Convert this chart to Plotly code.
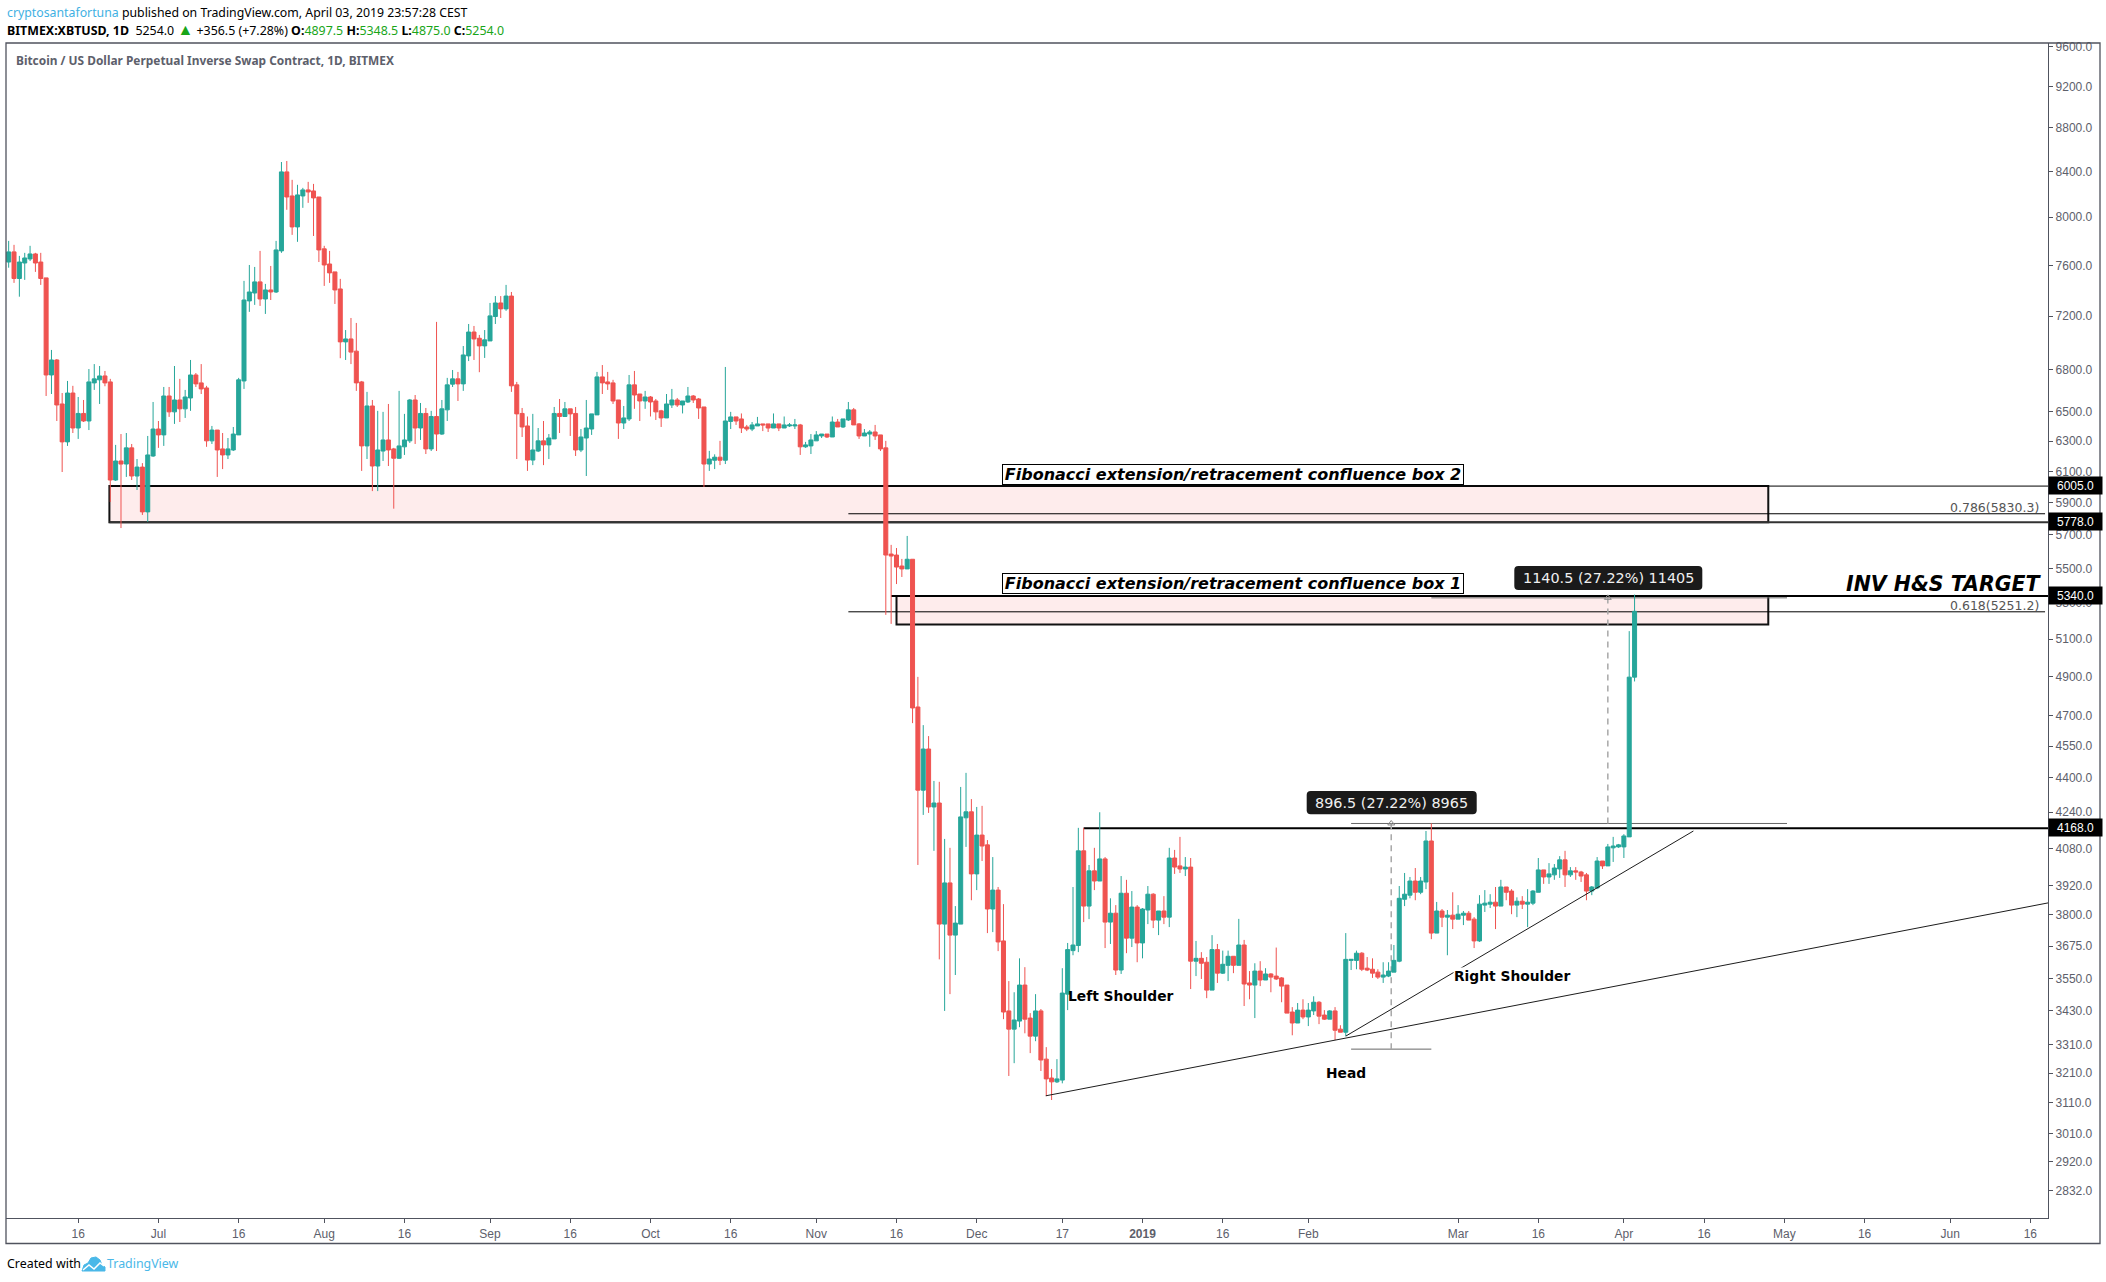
import math
import pandas as pd
import plotly.graph_objects as go

W, H = 2106, 1282
PL, PR, PT, PB = 6, 2048, 43, 1218

START_DATE = "2018-06-03"
OPEN = [7627,7710,7494,7619,7652,7693,7627,7499,6761,6870,
6555,6295,6632,6389,6489,6437,6704,6726,6754,6711,
6044,6168,6148,6255,6070,6128,5842,6201,6382,6342,
6611,6500,6583,6521,6597,6761,6704,6668,6302,6375,
6248,6208,6241,6342,6718,7317,7379,7467,7332,7403,
7387,7718,8397,8184,7918,8184,8237,8228,8175,7735,
7611,7547,7411,7004,7026,6935,6711,6268,6541,6135,
6234,6308,6248,6186,6262,6302,6583,6389,6489,6248,
6468,6348,6514,6695,6733,6697,6900,7078,7031,6974,
7011,7196,7301,7255,7355,6690,6489,6403,6174,6234,
6302,6275,6315,6489,6468,6521,6489,6241,6321,6382,
6479,6747,6711,6704,6583,6423,6451,6690,6625,6576,
6604,6576,6507,6458,6548,6583,6548,6569,6611,6590,
6534,6148,6173,6193,6173,6434,6465,6451,6396,6382,
6403,6417,6417,6389,6417,6389,6403,6403,6410,6262,
6268,6302,6335,6348,6328,6430,6396,6444,6514,6417,
6335,6348,6362,6342,6255,5585,5579,5514,5497,5554,
4744,4341,4536,4264,4282,3763,3932,3719,3763,4215,
4242,3970,4138,4095,3824,3902,3696,3430,3364,3393,
3526,3404,3339,3430,3258,3193,3180,3186,3492,3658,
3678,4069,3836,3983,3940,4034,3771,3807,3583,3889,
3707,3832,3688,3820,3885,3779,3816,3791,4038,4004,
3991,3999,3617,3628,3613,3507,3662,3571,3601,3636,
3601,3680,3534,3526,3579,3545,3568,3560,3553,3526,
3426,3386,3433,3408,3430,3462,3415,3400,3430,3364,
3353,3620,3620,3648,3590,3586,3575,3556,3560,3575,
3617,3864,3881,3940,3893,3936,4112,3727,3816,3791,
3799,3783,3799,3807,3783,3696,3840,3844,3852,3836,
3915,3898,3840,3856,3844,3848,3893,3987,3957,3966,
3991,4030,3966,3983,3978,3966,3898,3911,4025,4004,
4082,4086,4086,4130,4897.5]
HIGH = [7801,7768,7677,7702,7760,7702,7702,7499,6944,6877,
6632,6718,6683,6604,6583,6804,6840,6826,6790,6733,
6275,6348,6355,6281,6181,6154,6335,6569,6437,6675,
6675,6826,6733,6654,6870,6775,6840,6683,6403,6375,
6355,6321,6396,6740,7475,7603,7587,7718,7451,7595,
7801,8486,8495,8326,8282,8255,8308,8290,8175,7760,
7718,7547,7491,7093,7185,7147,6718,6640,6583,6507,
6500,6555,6255,6647,6486,6590,6618,6562,6527,6507,
7155,6583,6740,6797,6783,6973,7139,7124,7056,7093,
7301,7355,7355,7443,7387,6711,6527,6468,6486,6389,
6437,6348,6534,6590,6569,6521,6534,6382,6583,6486,
6783,6833,6783,6726,6583,6541,6761,6790,6625,6647,
6611,6590,6514,6625,6661,6597,6576,6675,6618,6597,
6534,6235,6212,6302,6819,6500,6465,6489,6410,6430,
6465,6417,6417,6489,6417,6468,6423,6451,6417,6295,
6348,6368,6348,6348,6468,6451,6451,6569,6527,6423,
6382,6375,6410,6342,6302,5640,5621,5556,5694,5554,
4899,4653,4599,4384,4380,4121,4082,3836,4356,4422,
4300,4264,4269,4116,4042,3915,3844,3541,3499,3628,
3594,3422,3492,3437,3300,3224,3258,3590,3688,3915,
4170,4170,4008,4082,4240,4042,3868,3840,3961,3945,
3898,3840,3828,3919,3889,3816,3877,4082,4073,4130,
4042,4038,3696,3652,3633,3719,3684,3658,3658,3636,
3784,3700,3579,3609,3617,3590,3571,3670,3556,3526,
3444,3459,3473,3459,3484,3466,3433,3433,3444,3378,
3727,3624,3658,3652,3633,3628,3586,3613,3613,3680,
3919,3974,3957,3995,3957,4156,4190,3853,3824,3820,
3893,3840,3816,3816,3791,3881,3902,3885,3915,3945,
3915,3906,3872,3877,3906,3902,4038,3987,4016,4012,
4046,4069,3999,3999,3983,3974,3919,4042,4025,4099,
4130,4099,4142,5144,5348.5]
LOW = [7581,7459,7350,7483,7635,7547,7443,6611,6625,6437,
6096,6268,6355,6315,6430,6375,6654,6555,6680,5904,
6038,5742,6064,6044,5980,5823,5780,6195,6255,6268,
6465,6417,6430,6458,6507,6675,6625,6262,6281,6064,
6115,6181,6234,6342,6661,7232,7286,7278,7216,7324,
7379,7702,8064,7851,7793,8081,8124,7842,7627,7435,
7459,7293,6883,6870,6840,6647,6103,6181,5973,5973,
6168,6135,5862,6181,6208,6288,6281,6308,6214,6234,
6234,6342,6437,6675,6576,6647,6862,6870,6781,6885,
7011,7139,7185,7240,6640,6181,6328,6103,6141,6227,
6141,6181,6315,6355,6465,6335,6201,6227,6070,6342,
6479,6625,6654,6555,6315,6382,6437,6521,6437,6521,
6468,6444,6396,6458,6527,6534,6489,6562,6562,6451,
5999,6103,6115,6141,6148,6382,6410,6355,6368,6368,
6403,6368,6362,6389,6368,6389,6396,6382,6208,6255,
6214,6302,6321,6321,6328,6396,6389,6437,6410,6315,
6335,6262,6308,6234,5234,5184,5409,5450,5497,4663,
4008,4228,4237,4069,3624,3430,3492,3564,3763,4086,
3860,3902,4025,3727,3731,3656,3400,3200,3244,3371,
3349,3279,3321,3217,3132,3119,3176,3175,3433,3640,
3652,3771,3783,3902,3940,3668,3684,3564,3568,3648,
3672,3613,3628,3763,3747,3719,3763,3751,3970,3974,
3961,3511,3560,3549,3477,3507,3534,3568,3541,3571,
3601,3448,3473,3404,3522,3545,3499,3545,3462,3422,
3342,3386,3400,3375,3415,3382,3397,3400,3325,3353,
3339,3583,3586,3579,3579,3553,3549,3534,3556,3575,
3613,3836,3868,3860,3885,3906,3703,3727,3751,3640,
3743,3783,3759,3779,3668,3692,3812,3828,3743,3836,
3860,3803,3791,3824,3751,3840,3893,3928,3928,3945,
3953,3915,3957,3945,3936,3860,3881,3906,3991,4004,
4021,4082,4038,4130,4875]
CLOSE = [7710,7494,7627,7660,7693,7619,7494,6761,6870,6548,
6295,6632,6389,6489,6437,6711,6733,6754,6704,6044,
6168,6148,6255,6070,6128,5842,6208,6382,6342,6611,
6500,6583,6521,6604,6761,6697,6661,6302,6375,6241,
6208,6248,6348,6726,7324,7387,7467,7332,7403,7387,
7726,8397,8175,7918,8193,8237,8219,8167,7726,7603,
7539,7403,7004,7026,6928,6704,6268,6541,6135,6241,
6308,6241,6186,6268,6308,6583,6389,6489,6248,6468,
6348,6521,6690,6733,6697,6907,7078,7026,6974,7019,
7201,7301,7255,7355,6683,6486,6396,6174,6241,6302,
6275,6321,6489,6468,6521,6486,6241,6328,6389,6486,
6747,6704,6697,6576,6423,6458,6690,6618,6576,6604,
6569,6500,6458,6555,6583,6548,6576,6611,6583,6527,
6148,6181,6193,6173,6437,6465,6437,6389,6382,6410,
6417,6410,6389,6417,6389,6410,6410,6410,6262,6275,
6308,6342,6348,6328,6430,6396,6451,6514,6410,6335,
6355,6362,6335,6248,5579,5573,5508,5497,5554,4739,
4341,4536,4264,4282,3763,3932,3719,3767,4219,4242,
3970,4138,4090,3824,3902,3692,3426,3364,3397,3526,
3400,3339,3430,3255,3190,3180,3190,3496,3662,3680,
4069,3836,3983,3940,4034,3771,3807,3583,3889,3707,
3832,3688,3824,3885,3779,3816,3791,4038,3999,3991,
3999,3617,3628,3609,3507,3662,3571,3605,3636,3601,
3680,3530,3526,3579,3545,3568,3556,3549,3522,3422,
3386,3433,3408,3433,3462,3411,3400,3430,3360,3353,
3624,3624,3648,3586,3583,3571,3556,3564,3579,3620,
3868,3885,3940,3893,3940,4112,3727,3816,3791,3799,
3783,3803,3807,3779,3696,3844,3848,3852,3836,3915,
3893,3840,3856,3844,3852,3898,3987,3957,3970,3995,
4030,3966,3983,3978,3961,3898,3915,4025,4004,4086,
4090,4095,4134,4897.5,5254]

Y_TICKS = [9600,9200,8800,8400,8000,7600,7200,6800,6500,6300,6100,5900,5700,5500,5300,5100,
           4900,4700,4550,4400,4240,4080,3920,3800,3675,3550,3430,3310,3210,3110,3010,2920,2832]
X_TICKS = ["2018-06-16","2018-07-01","2018-07-16","2018-08-01","2018-08-16","2018-09-01","2018-09-16",
           "2018-10-01","2018-10-16","2018-11-01","2018-11-16","2018-12-01","2018-12-17","2019-01-01",
           "2019-01-16","2019-02-01","2019-03-01","2019-03-16","2019-04-01","2019-04-16","2019-05-01",
           "2019-05-16","2019-06-01","2019-06-16"]
X_LABELS = ["16","Jul","16","Aug","16","Sep","16","Oct","16","Nov","16","Dec","17","<b>2019</b>",
            "16","Feb","Mar","16","Apr","16","May","16","Jun","16"]

X_RANGE = ["2018-06-02 12:00", "2019-06-19 07:12"]
Y_MIN, Y_MAX = 2750, 9635

# Drawings, in chart values
BOX2 = ("2018-06-21 20:00", "2019-04-28", 6005, 5778)
BOX1 = ("2018-11-16 00:00", "2019-04-28", 5340, 5180)
PRICE_TAGS = [6005, 5778, 5340, 4168]
FIB_LEVELS = [("0.786(5830.3)", 5830.3), ("0.618(5251.2)", 5251.2)]
FIB_START = "2018-11-07"
NECK_START = "2018-12-21"
TARGET_START = "2018-11-15"
M_BOTTOM, M_MID, M_TOP = 3293, 4189.5, 5330
M1_X, M2_X = "2019-02-16 12:00", "2019-03-29"
ML_A, ML_B, ML_C = "2019-02-09", "2019-02-24", "2019-05-01 12:00"
TREND1_X = ["2018-12-13 22:00", "2019-06-19 07:12"]
TREND1_Y = [3133, 3849]
TREND2_X = ["2019-02-08", "2019-04-14"]
TREND2_Y = [3339, 4156]

GREEN, RED = "#26A69A", "#EF5350"
AXIS = "#50535E"
SANS = "Noto Sans"
DEJA = "DejaVu Sans"
ARIAL = "Liberation Sans"


def px(x):
    return (x - PL) / (PR - PL)


def py(y):
    return (PB - y) / (PB - PT)


dates = pd.date_range(START_DATE, periods=len(OPEN), freq="D")

fig = go.Figure()
fig.add_trace(go.Candlestick(
    x=dates, open=OPEN, high=HIGH, low=LOW, close=CLOSE,
    increasing=dict(line=dict(color=GREEN, width=1), fillcolor=GREEN),
    decreasing=dict(line=dict(color=RED, width=1), fillcolor=RED),
    whiskerwidth=0, showlegend=False, hoverinfo="skip"))
for xs, ys in [(TREND1_X, TREND1_Y), (TREND2_X, TREND2_Y)]:
    fig.add_trace(go.Scatter(x=xs, y=ys, mode="lines", line=dict(color="#1c1c1c", width=1),
                             showlegend=False, hoverinfo="skip"))
fig.add_trace(go.Scatter(x=[M1_X, M2_X], y=[M_MID, M_TOP], mode="markers",
                         marker=dict(symbol="triangle-up-open", size=6, color="#8a8a8a", line=dict(width=1, color="#8a8a8a")),
                         showlegend=False, hoverinfo="skip"))

shapes = []


def hline(x0, x1, y, color="black", width=1, dash=None):
    line = dict(color=color, width=width)
    if dash:
        line["dash"] = dash
    shapes.append(dict(type="line", xref="x", yref="y", x0=x0, x1=x1, y0=y, y1=y, line=line, layer="below"))


for (x0, x1, y0, y1) in (BOX2, BOX1):
    shapes.append(dict(type="rect", xref="x", yref="y", x0=x0, x1=x1, y0=y0, y1=y1,
                       fillcolor="#FEECEC", line=dict(color="#111111", width=2), layer="below"))

hline(BOX2[0], X_RANGE[1], 6005, width=1)
hline(BOX2[0], X_RANGE[1], 5778, color="#333333", width=2)
hline(TARGET_START, X_RANGE[1], 5340, width=2)
hline(NECK_START, X_RANGE[1], 4168, width=2)
for _, lvl in FIB_LEVELS:
    hline(FIB_START, "2019-06-18 18:00", lvl, width=1)
hline(ML_A, ML_C, M_MID, color="#666666", width=1)
hline(ML_A, ML_B, M_BOTTOM, color="#666666", width=1)
hline(ML_B, ML_C, M_TOP, color="#666666", width=1)
for xm, y0, y1 in [(M1_X, M_BOTTOM, M_MID), (M2_X, M_MID, M_TOP)]:
    shapes.append(dict(type="line", xref="x", yref="y", x0=xm, x1=xm, y0=y0, y1=y1,
                       line=dict(color="#A8A8A8", width=1.5, dash="6px,5px"), layer="below"))


def paper_rect(x0, y0, x1, y1, color=AXIS, fill=None, width=1):
    s = dict(type="rect", xref="paper", yref="paper", x0=px(x0), x1=px(x1), y0=py(y0), y1=py(y1),
             line=dict(color=color, width=width))
    if fill:
        s["fillcolor"] = fill
    shapes.append(s)


# outer frame of the picture
paper_rect(6, 43, 2100, 1243.5, width=1.3)


def rounded(x0, y0, x1, y1, r, fill):
    X = lambda v: f"{px(v):.5f}"
    Y = lambda v: f"{py(v):.5f}"
    p = (f"M{X(x0+r)},{Y(y0)} L{X(x1-r)},{Y(y0)} Q{X(x1)},{Y(y0)} {X(x1)},{Y(y0+r)} "
         f"L{X(x1)},{Y(y1-r)} Q{X(x1)},{Y(y1)} {X(x1-r)},{Y(y1)} L{X(x0+r)},{Y(y1)} "
         f"Q{X(x0)},{Y(y1)} {X(x0)},{Y(y1-r)} L{X(x0)},{Y(y0+r)} Q{X(x0)},{Y(y0)} {X(x0+r)},{Y(y0)} Z")
    shapes.append(dict(type="path", xref="paper", yref="paper", path=p, fillcolor=fill, line=dict(width=0)))


rounded(1306.7, 791, 1476.7, 814.3, 4, "#1A1A1A")
rounded(1514.3, 566, 1702.3, 590, 4, "#1A1A1A")


def poly(pts, fill=None, stroke=None, w=1):
    d = "M" + " L".join(f"{px(x):.5f},{py(y):.5f}" for x, y in pts)
    if fill:
        d += " Z"
    s = dict(type="path", xref="paper", yref="paper", path=d, line=dict(width=w, color=stroke or fill))
    if fill:
        s["fillcolor"] = fill
    shapes.append(s)


# TradingView cloud mark in the footer
poly([(82, 1271), (84, 1265), (88, 1263), (91, 1258), (96, 1257), (100, 1260), (102, 1265), (105, 1267), (105, 1271)], fill="#4AB8E8")
poly([(83, 1270), (89, 1265), (94, 1269), (100, 1263), (104, 1266)], stroke="white", w=1.5)

anns = []


def text(x, y, s, size, font=SANS, color="black", anchor="left", **kw):
    a = dict(xref="paper", yref="paper", x=px(x), y=py(y), text=s, showarrow=False,
             xanchor=anchor, yanchor="middle", font=dict(family=font, size=size, color=color), borderpad=0)
    a.update(kw)
    anns.append(a)


text(6, 12.5, '<span style="color:#3FB1E3">cryptosantafortuna</span> published on TradingView.com, April 03, 2019 23:57:28 CEST', 12.3)
g = "#19A519"
text(6, 29.5, f'<b>BITMEX:XBTUSD, 1D</b>  5254.0 <span style="color:{g};font-size:16px">▲</span> +356.5 (+7.28%) '
     f'<b>O:</b><span style="color:{g}">4897.5</span> <b>H:</b><span style="color:{g}">5348.5</span> '
     f'<b>L:</b><span style="color:{g}">4875.0</span> <b>C:</b><span style="color:{g}">5254.0</span>', 12.4)
text(14.5, 60.5, "<b>Bitcoin / US Dollar Perpetual Inverse Swap Contract, 1D, BITMEX</b>", 11.9, color="#5D606B")
text(6, 1263, "Created with", 12.4)
text(106, 1263, "TradingView", 12.4, color="#4AB8E8")

for label, cy in [("Fibonacci extension/retracement confluence box 2", 475),
                  ("Fibonacci extension/retracement confluence box 1", 583)]:
    text(1233, cy, f"<b><i>{label}</i></b>", 16, font=DEJA, anchor="center", bgcolor="white",
         bordercolor="black", borderwidth=1, width=460, height=19, align="center")

text(2043, 584, "<b><i>INV H&amp;S TARGET</i></b>", 20.5, font=DEJA, anchor="right")
text(1121, 996, "<b>Left Shoulder</b>", 13.8, font=DEJA, anchor="center")
text(1512, 975.7, "<b>Right Shoulder</b>", 13.8, font=DEJA, anchor="center", bgcolor="white")
text(1346, 1073, "<b>Head</b>", 13.8, font=DEJA, anchor="center")
text(1391.7, 802.6, "896.5 (27.22%) 8965", 14.4, font=DEJA, color="#F0F0F0", anchor="center")
text(1608.3, 578, "1140.5 (27.22%) 11405", 14.4, font=DEJA, color="#F0F0F0", anchor="center")

for label, lvl in FIB_LEVELS:
    anns.append(dict(xref="paper", yref="y", x=px(2041), y=math.log10(lvl), text=label, showarrow=False,
                     xanchor="right", yanchor="bottom", yshift=-3,
                     font=dict(family=DEJA, size=12.5, color="#555555")))

for tag in PRICE_TAGS:
    anns.append(dict(xref="paper", yref="y", x=px(2048), y=math.log10(tag), text=f"{tag:.1f}", showarrow=False,
                     xanchor="left", yanchor="middle", yshift=1, width=51, height=15, bgcolor="black", align="center",
                     borderpad=1, font=dict(family=ARIAL, size=12, color="white")))

fig.update_layout(
    width=W, height=H, autosize=False,
    margin=dict(l=PL, r=W - PR, t=PT, b=H - PB, pad=0),
    paper_bgcolor="white", plot_bgcolor="white",
    boxgap=0.25, boxgroupgap=0, showlegend=False,
    shapes=shapes, annotations=anns,
    xaxis=dict(type="date", range=X_RANGE, rangeslider=dict(visible=False), showgrid=False, zeroline=False,
               tickmode="array", tickvals=X_TICKS, ticktext=X_LABELS, ticks="outside", ticklen=4, tickcolor=AXIS,
               tickfont=dict(family=ARIAL, size=12, color="#5D606B"), showline=True, linecolor=AXIS, linewidth=1.3),
    yaxis=dict(type="log", side="right", range=[math.log10(Y_MIN), math.log10(Y_MAX)], showgrid=False, zeroline=False,
               tickmode="array", tickvals=Y_TICKS, ticktext=[f"{v:.1f}" for v in Y_TICKS], ticks="outside", ticklen=4,
               tickcolor=AXIS, tickfont=dict(family=ARIAL, size=12, color="#5D606B"), showline=True, linecolor=AXIS,
               linewidth=1.3),
)

fig.write_html("out.html", include_plotlyjs=True, config={"displayModeBar": False},
               post_script="document.body.style.margin='0';document.body.style.overflow='hidden';")
